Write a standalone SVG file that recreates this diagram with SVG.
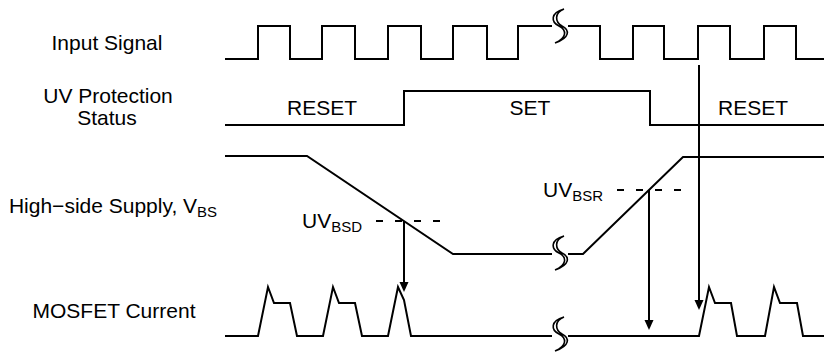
<svg xmlns="http://www.w3.org/2000/svg" xmlns:xlink="http://www.w3.org/1999/xlink" width="824" height="352" viewBox="0 0 824 352">
<style>
.w{fill:none;stroke:#000;stroke-width:2;stroke-linejoin:miter}
.d{fill:none;stroke:#000;stroke-width:2;stroke-dasharray:7 12}
.a{fill:none;stroke:#000;stroke-width:2;marker-end:url(#ah)}
text{font-family:"Liberation Sans",Arial,sans-serif;font-size:21px;fill:#000}
.m{text-anchor:middle}
.s{font-size:15px}
</style>
<defs>
<marker id="ah" markerUnits="userSpaceOnUse" markerWidth="10" markerHeight="10" refX="2" refY="4.5" orient="auto">
<path d="M0,0 L10,4.5 L0,9 Z" fill="#000"/>
</marker>
<g id="brk">
<rect x="-8" y="-3" width="16" height="6" fill="#fff"/>
<path d="M4,-17 C-10,-13 -9,-4 -1,0 C7,4 7,12 -5,17 L-5,17 C10,12 10,4 2,0 C-5,-4 -6,-13 4,-17 Z" fill="#fff"/>
<path d="M4,-17 C-10,-13 -9,-4 -1,0 C7,4 7,12 -5,17 M4,-17 C-6,-13 -5,-4 2,0 C10,4 10,12 -5,17" fill="none" stroke="#000" stroke-width="1.6"/>
</g>
</defs>
<g id="labels">
<text class="m" x="107" y="50">Input Signal</text>
<text class="m" x="108" y="103">UV Protection</text>
<text class="m" x="107" y="125">Status</text>
<text class="m" x="113" y="213">High−side Supply, V<tspan class="s" dy="4">BS</tspan></text>
<text class="m" x="114" y="318">MOSFET Current</text>
</g>
<g id="input-signal">
<path class="w" d="M225,59 H258 V26 H290 V59 H322 V26 H355 V59 H388 V26 H421 V59 H453 V26 H487 V59 H518 V26 H600 V59 H633 V26 H664 V59 H698 V26 H730 V59 H764 V26 H796 V59 H824"/>
<use xlink:href="#brk" x="560" y="26"/>
</g>
<g id="uv-status">
<path class="w" d="M225,125 H404 V91 H650 V125 H824"/>
<text class="m" x="322" y="115">RESET</text>
<text class="m" x="530" y="115">SET</text>
<text class="m" x="753" y="115">RESET</text>
</g>
<g id="vbs">
<path class="w" d="M225,156 H307 L453,254 H583 L683,157 H824"/>
<use xlink:href="#brk" x="560" y="253"/>
<path class="d" d="M376,221 H442"/>
<path class="d" d="M617,190 H684"/>
<text x="302" y="228">UV<tspan class="s" dy="4">BSD</tspan></text>
<text x="543" y="197">UV<tspan class="s" dy="4">BSR</tspan></text>
</g>
<g id="mosfet">
<path class="w" d="M225,336 H258 L268,287 L274,303 H290 L297,336 H323 L333,287 L339,303 H355 L362,336 H388 L398,287 L404,300 L411,336 H699 L709,287 L715,303 H731 L737,336 H765 L774,287 L780,303 H797 L803,336 H824"/>
<use xlink:href="#brk" x="560" y="334"/>
</g>
<g id="connectors">
<path class="a" d="M404,221 V284"/>
<path class="a" d="M649,190 V322"/>
<path class="a" d="M699,65 V302"/>
</g>
</svg>
